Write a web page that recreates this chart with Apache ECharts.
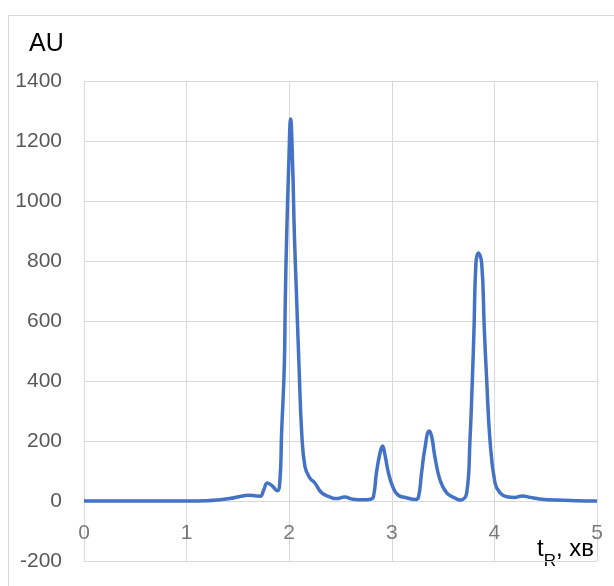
<!DOCTYPE html>
<html>
<head>
<meta charset="utf-8">
<script src="https://cdn.jsdelivr.net/npm/echarts@6/dist/echarts.min.js"></script>
<style>
  html, body { margin: 0; padding: 0; background: #fff; }
  #chart { width: 614px; height: 586px; }
</style>
</head>
<body>
<div id="chart"></div>
<script>
// Retention time, min
const tR = [0, 0.5, 1.0, 1.2, 1.3, 1.42, 1.52, 1.6, 1.68, 1.72, 1.75, 1.787, 1.83, 1.884, 1.91,
  1.926, 1.952, 1.962, 1.976, 1.995, 2.014, 2.034, 2.05, 2.073, 2.096, 2.122, 2.154, 2.2, 2.25,
  2.317, 2.4, 2.46, 2.54, 2.62, 2.72, 2.79, 2.82, 2.85, 2.885, 2.91, 2.93, 2.965, 3.01, 3.06,
  3.15, 3.23, 3.26, 3.29, 3.32, 3.365, 3.39, 3.42, 3.47, 3.535, 3.615, 3.665, 3.73, 3.762,
  3.785, 3.801, 3.82, 3.843, 3.876, 3.902, 3.925, 3.957, 4.006, 4.055, 4.12, 4.2, 4.27, 4.35,
  4.44, 4.6, 4.8, 5.0];
// Detector response, AU
const au = [0, 0, 0, 1, 3, 8, 15, 19, 17, 16, 35, 60, 52, 34, 70,
  227, 447, 670, 893, 1114, 1273, 1114, 893, 670, 447, 227, 114, 77, 60,
  27, 13, 8, 13, 6, 4, 6, 13, 93, 160, 183, 160, 97, 47, 20,
  10, 5, 13, 93, 170, 233, 213, 147, 70, 27, 10, 3, 27, 203,
  403, 570, 793, 827, 793, 570, 403, 203, 60, 27, 14, 12, 17, 12,
  7, 3, 1, 0];

const xTicks = [0, 1, 2, 3, 4, 5];
const yTicks = [-200, 0, 200, 400, 600, 800, 1000, 1200, 1400];

const chart = echarts.init(document.getElementById('chart'), null, { renderer: 'canvas' });
const font = 'Liberation Sans';
const gridColor = '#d9d9d9';
const labelColor = '#595959';

chart.setOption({
  animation: false,
  backgroundColor: '#ffffff',
  grid: { left: 84, right: 17, top: 81, bottom: 25, containLabel: false, outerBoundsMode: 'none' },
  xAxis: {
    type: 'value',
    min: xTicks[0],
    max: xTicks[xTicks.length - 1],
    interval: 1,
    axisLine: { show: true, onZero: true, lineStyle: { color: gridColor, width: 1 } },
    axisTick: { show: false },
    axisLabel: { show: false },
    splitLine: { show: true, lineStyle: { color: gridColor, width: 1 } }
  },
  yAxis: {
    type: 'value',
    min: yTicks[0],
    max: yTicks[yTicks.length - 1],
    interval: 200,
    axisLine: { show: false },
    axisTick: { show: false },
    axisLabel: {
      color: labelColor, fontSize: 21, fontFamily: font, margin: 22,
      formatter: v => String(v)
    },
    splitLine: { show: true, lineStyle: { color: gridColor, width: 1 } }
  },
  series: [
    {
      type: 'line',
      data: tR.map((t, i) => [t, au[i]]),
      smooth: 0.45,
      showSymbol: false,
      lineStyle: { color: '#4472C4', width: 3.5 },
      z: 5
    },
    {
      // time tick labels sitting under the zero line
      type: 'scatter',
      data: xTicks.map(t => [t, 0]),
      symbolSize: 0,
      silent: true,
      z: 4,
      label: {
        show: true,
        position: 'bottom',
        distance: 22,
        formatter: p => String(p.value[0]),
        color: labelColor, fontSize: 21, fontFamily: font
      }
    }
  ],
  graphic: [
    {
      type: 'rect',
      shape: { x: 8.5, y: 15.5, width: 700, height: 700 },
      style: { fill: null, stroke: gridColor, lineWidth: 1 },
      silent: true,
      z: -1
    },
    {
      type: 'text',
      left: 29,
      top: 32,
      style: { text: 'AU', fill: '#000', fontSize: 25, fontFamily: font }
    },
    {
      type: 'text',
      right: 20,
      top: 537,
      style: {
        text: '{a|t}{s|R}{a|, хв}',
        fontFamily: font,
        rich: {
          a: { fontSize: 24, fontFamily: font, fill: '#000', lineHeight: 24, padding: [0, 0, 9, 0], verticalAlign: 'bottom' },
          s: { fontSize: 17, fontFamily: font, fill: '#000', lineHeight: 17, verticalAlign: 'bottom' }
        }
      }
    }
  ]
});
</script>
</body>
</html>
